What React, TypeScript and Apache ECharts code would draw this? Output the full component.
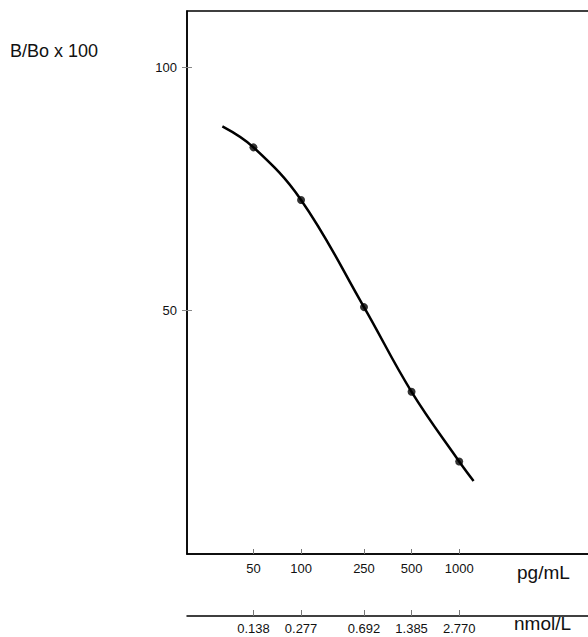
import React, { useEffect, useRef } from "react";
import * as echarts from "echarts";

// Standard curve: concentration (pg/mL) against B/Bo x 100
const standardConc = [50, 100, 250, 500, 1000];
const standardBBo = [83.5, 72.7, 50.7, 33.3, 19.0];

// Fitted curve, including its extensions beyond the first and last standard
const curveConc = [31.8, 50, 100, 250, 500, 1000, 1233];
const curveBBo = [87.8, 83.5, 72.7, 50.7, 33.3, 19.0, 15.0];

// Axis ticks
const pgTicks = [50, 100, 250, 500, 1000];
const nmolLabels = ["0.138", "0.277", "0.692", "1.385", "2.770"];
const yTicks = [50, 100];

const FONT = "'Liberation Sans', Arial, Helvetica, sans-serif";

function nmolFor(v: number): string {
  let best = 0;
  for (let i = 1; i < pgTicks.length; i++) {
    if (Math.abs(pgTicks[i] - v) < Math.abs(pgTicks[best] - v)) best = i;
  }
  return nmolLabels[best];
}

export default function App() {
  const ref = useRef<HTMLDivElement>(null);

  useEffect(() => {
    if (!ref.current) return;
    const chart = echarts.init(ref.current, undefined, { renderer: "svg" });

    const xBase = {
      type: "log" as const,
      logBase: 10,
      min: 19,
      max: 8000,
      position: "bottom" as const,
      splitLine: { show: false },
      minorTick: { show: false },
    };

    chart.setOption({
      animation: false,
      backgroundColor: "#ffffff",
      grid: {
        left: 187,
        right: -14,
        top: 11,
        bottom: 83,
        outerBoundsMode: "none",
        containLabel: false,
        show: true,
        borderColor: "#000",
        borderWidth: 1.5,
      },
      xAxis: [
        {
          ...xBase,
          axisLine: {
            show: true,
            onZero: false,
            lineStyle: { color: "#000", width: 1.5 },
          },
          axisTick: {
            show: true,
            inside: true,
            length: 5,
            customValues: pgTicks,
            lineStyle: { color: "#777", width: 1 },
          },
          axisLabel: {
            show: true,
            customValues: pgTicks,
            margin: 8,
            color: "#111",
            fontSize: 13,
            fontFamily: FONT,
            formatter: (v: number) => String(Math.round(v)),
          },
        },
        {
          ...xBase,
          offset: 62,
          axisLine: {
            show: true,
            onZero: false,
            lineStyle: { color: "#000", width: 1.5 },
          },
          axisTick: {
            show: true,
            inside: true,
            length: 6,
            customValues: pgTicks,
            lineStyle: { color: "#777", width: 1 },
          },
          axisLabel: {
            show: true,
            customValues: pgTicks,
            margin: 6,
            color: "#111",
            fontSize: 13,
            fontFamily: FONT,
            formatter: (v: number) => nmolFor(v),
          },
        },
      ],
      yAxis: [
        {
          type: "value",
          min: 0,
          max: 111.5,
          position: "left",
          splitLine: { show: false },
          axisLine: { show: true, onZero: false, lineStyle: { color: "#000", width: 1.5 } },
          axisTick: {
            show: true,
            length: 5,
            customValues: yTicks,
            lineStyle: { color: "#888", width: 1 },
          },
          axisLabel: {
            show: true,
            customValues: yTicks,
            margin: 10,
            color: "#111",
            fontSize: 13,
            fontFamily: FONT,
          },
        },
        {
          type: "value",
          min: 0,
          max: 111.5,
          position: "left",
          splitLine: { show: false },
          axisLine: { show: false, onZero: false },
          axisTick: {
            show: true,
            inside: true,
            length: 5,
            customValues: yTicks,
            lineStyle: { color: "#888", width: 1 },
          },
          axisLabel: { show: false },
        },
      ],
      graphic: [
        {
          type: "text",
          left: 10,
          top: 42,
          style: {
            text: "B/Bo x 100",
            fontSize: 18,
            fontFamily: FONT,
            fill: "#111",
          },
        },
        {
          type: "text",
          left: 517,
          top: 563,
          style: {
            text: "pg/mL",
            fontSize: 19,
            fontFamily: FONT,
            fill: "#111",
          },
        },
        {
          type: "text",
          left: 514,
          top: 614,
          style: {
            text: "nmol/L",
            fontSize: 19,
            fontFamily: FONT,
            fill: "#111",
          },
        },
      ],
      series: [
        {
          type: "line",
          xAxisIndex: 0,
          yAxisIndex: 0,
          smooth: 0.4,
          showSymbol: false,
          silent: true,
          lineStyle: { color: "#000", width: 2.5 },
          data: curveConc.map((c, i) => [c, curveBBo[i]]),
        },
        {
          type: "scatter",
          xAxisIndex: 0,
          yAxisIndex: 0,
          symbol: "circle",
          symbolSize: 8,
          itemStyle: { color: "#000" },
          data: standardConc.map((c, i) => [c, standardBBo[i]]),
        },
      ],
    });

    return () => chart.dispose();
  }, []);

  return (
    <div
      ref={ref}
      style={{ position: "fixed", left: 0, top: 0, width: 588, height: 637 }}
    />
  );
}
